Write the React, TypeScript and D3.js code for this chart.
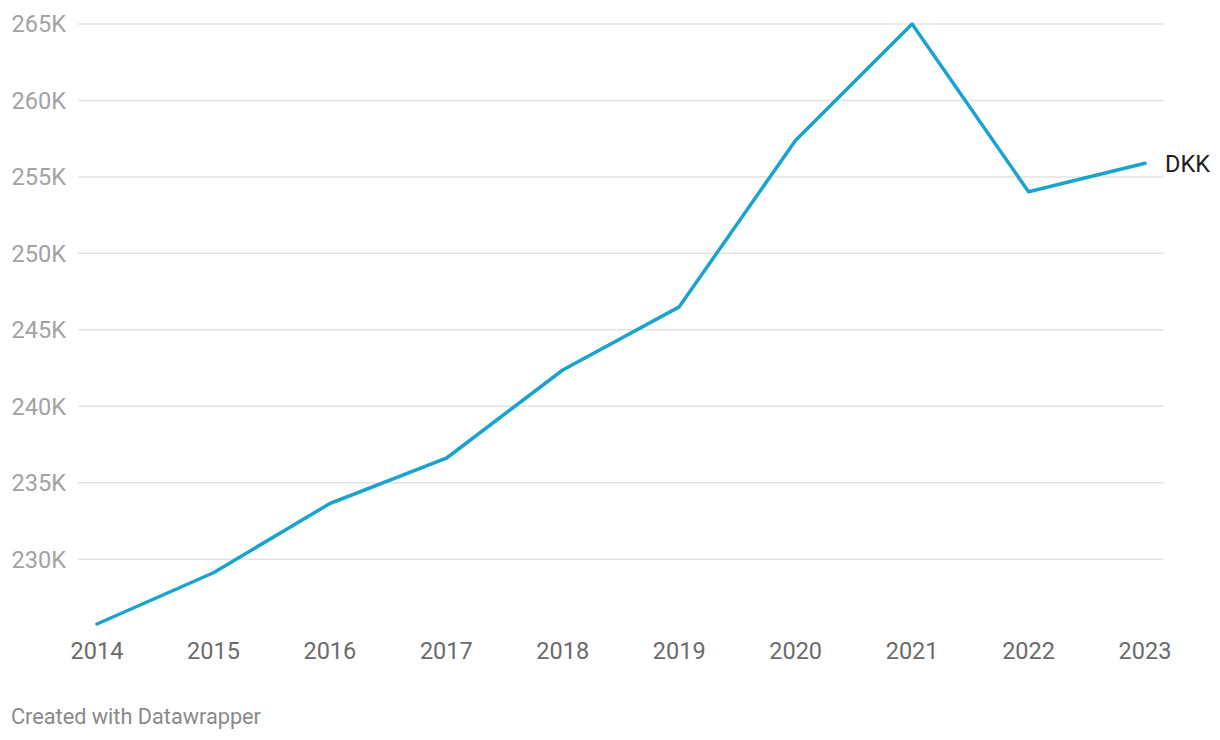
import React from "react";
import * as d3 from "d3";

const years = [2014, 2015, 2016, 2017, 2018, 2019, 2020, 2021, 2022, 2023];
const values = [225.76, 229.11, 233.64, 236.6, 242.37, 246.5, 257.4, 265.0, 254.03, 255.89];
const yTicks = [230, 235, 240, 245, 250, 255, 260, 265];
const seriesLabel = "DKK";
const footer = "Created with Datawrapper";

const W = 1220;
const H = 740;
const FONT = "Roboto, 'Noto Sans', sans-serif";

export default function App() {
  const x = d3.scaleLinear().domain([2014, 2023]).range([97, 1145]);
  const y = d3.scaleLinear().domain([230, 265]).range([482.7 + 76.45, 24]);
  const line = d3
    .line<number>()
    .x((_, i) => x(years[i]))
    .y((d) => y(d));
  const lastY = y(values[values.length - 1]);
  return (
    <svg
      width={W}
      height={H}
      style={{ position: "absolute", left: 0, top: 0, background: "#fff" }}
      fontFamily={FONT}
    >
      {yTicks.map((t) => (
        <g key={t}>
          <line x1={78} x2={1164} y1={y(t)} y2={y(t)} stroke="#e3e3e3" strokeWidth={1.5} />
          <text
            x={66}
            y={y(t)}
            dy="0.36em"
            textAnchor="end"
            fontSize={23.6}
            fill="#a3a3a3"
          >
            {t}K
          </text>
        </g>
      ))}
      {years.map((yr) => (
        <text key={yr} x={x(yr)} y={658.5} textAnchor="middle" fontSize={23.5} fill="#6b6b6b">
          {yr}
        </text>
      ))}
      <path
        d={line(values) || ""}
        fill="none"
        stroke="#1aa3cf"
        strokeWidth={3.5}
        strokeLinejoin="round"
        strokeLinecap="round"
      />
      <text x={1165} y={lastY} dy="0.36em" fontSize={23.5} fill="#1d1d1d">
        {seriesLabel}
      </text>
      <text x={11} y={724} fontSize={21.7} fill="#8a8a8a">
        {footer}
      </text>
    </svg>
  );
}
